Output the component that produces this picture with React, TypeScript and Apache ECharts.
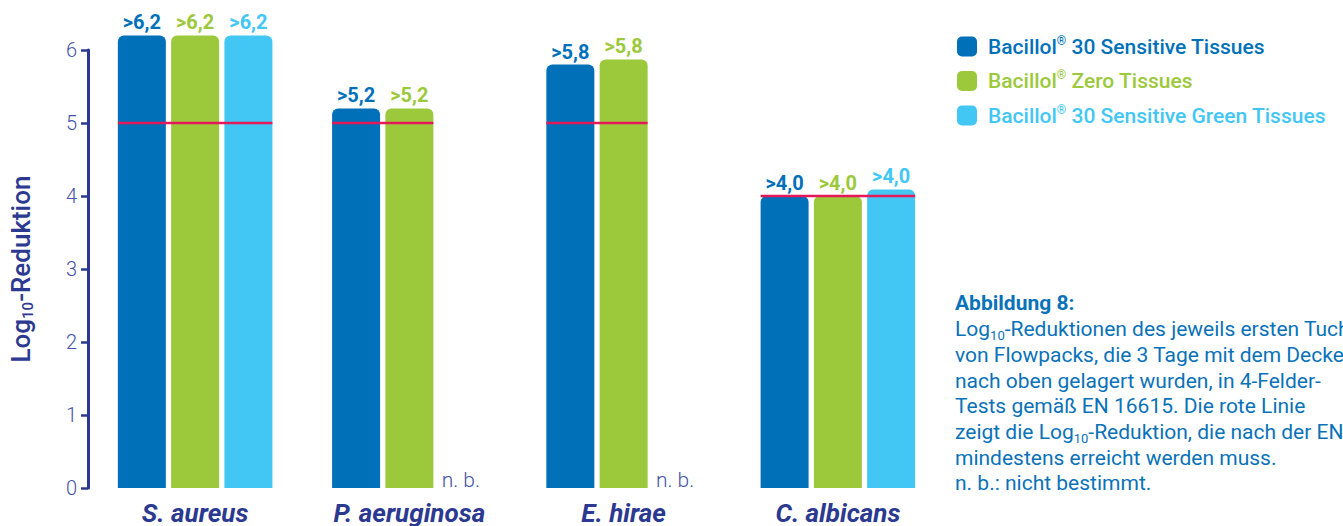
import React, { useEffect, useRef } from 'react';
import * as echarts from 'echarts';

const categories = ['S. aureus', 'P. aeruginosa', 'E. hirae', 'C. albicans'];
const seriesNames = [
  'Bacillol® 30 Sensitive Tissues',
  'Bacillol® Zero Tissues',
  'Bacillol® 30 Sensitive Green Tissues',
];
const seriesColors = ['#0071b9', '#9cc93b', '#42c7f4'];

// null = n. b. (nicht bestimmt)
const sensitiveValues = [6.2, 5.2, 5.8, 4.0];
const zeroValues = [6.2, 5.2, 5.87, 4.0];
const greenValues: (number | null)[] = [6.2, null, null, 4.09];

const sensitiveLabels = ['>6,2', '>5,2', '>5,8', '>4,0'];
const zeroLabels = ['>6,2', '>5,2', '>5,8', '>4,0'];
const greenLabels = ['>6,2', 'n. b.', 'n. b.', '>4,0'];

// Required log10 reduction per EN 16615 (red line)
const requiredReduction = [5, 5, 5, 4];
const barsPerGroup = [3, 2, 2, 3];

const yMin = 0;
const yMax = 6;
const yInterval = 1;

const captionTitle = 'Abbildung 8:';
const captionLines = [
  '{t|Log}{s|10}{t|-Reduktionen des jeweils ersten Tuches}',
  '{t|von Flowpacks, die 3 Tage mit dem Deckel}',
  '{t|nach oben gelagert wurden, in 4-Felder-}',
  '{t|Tests gemäß EN 16615. Die rote Linie}',
  '{t|zeigt die Log}{s|10}{t|-Reduktion, die nach der EN 16615}',
  '{t|mindestens erreicht werden muss.}',
  '{t|n. b.: nicht bestimmt.}',
];

const FONT = 'Roboto';
const AXIS_COLOR = '#2b3990';
const TICK_LABEL_COLOR = '#4453a6';
const RED = '#e5195a';
const CAPTION_COLOR = '#0a72b8';
const BAR_W = 48;

export default function App() {
  const ref = useRef<HTMLDivElement>(null);

  useEffect(() => {
    document.body.style.margin = '0';
    if (!ref.current) return;
    const chart = echarts.init(ref.current, undefined, { renderer: 'svg' });

    const valueLists = [sensitiveValues, zeroValues, greenValues];
    const labelLists = [sensitiveLabels, zeroLabels, greenLabels];

    const barSeries = valueLists.map((vals, si) => ({
      type: 'bar',
      name: seriesNames[si],
      barWidth: BAR_W,
      barGap: '11%',
      clip: false,
      itemStyle: { color: seriesColors[si], borderRadius: [6, 6, 0, 0] },
      label: {
        show: true,
        position: 'top',
        distance: 3,
        fontFamily: FONT,
        fontSize: 20,
        fontWeight: 'bold',
        color: seriesColors[si],
        formatter: (p: any) => labelLists[si][p.dataIndex],
      },
      data: vals.map((v) =>
        v == null
          ? {
              value: 0,
              label: {
                show: true,
                position: [3, 2],
                align: 'left',
                verticalAlign: 'bottom',
                fontFamily: FONT,
                fontSize: 21,
                fontWeight: 300,
                color: TICK_LABEL_COLOR,
              },
            }
          : { value: v },
      ),
    }));

    const legendRich = (color: string) => ({
      a: { fontFamily: FONT, fontSize: 21, fontWeight: 500, color, lineHeight: 24 },
      r: { fontFamily: FONT, fontSize: 12, fontWeight: 500, color, lineHeight: 13, verticalAlign: 'top' },
    });

    const option: any = {
      animation: false,
      grid: { left: 86, right: 398, top: 50, bottom: 36, containLabel: false },
      legend: seriesNames.map((n, i) => ({
        data: [n],
        left: 957,
        top: 34.5 + i * 34.5,
        padding: 0,
        itemWidth: 20,
        itemHeight: 20,
        icon: 'roundRect',
        selectedMode: false,
        formatter: (name: string) => {
          const parts = name.split('®');
          return `{a|${parts[0]}}{r|®}{a|${parts[1]}}`;
        },
        textStyle: { padding: [0, 0, 0, 6], rich: legendRich(seriesColors[i]) },
      })),
      xAxis: {
        type: 'category',
        data: categories,
        axisLine: { show: false },
        axisTick: { show: false },
        axisLabel: {
          fontFamily: FONT,
          fontSize: 26,
          fontWeight: 'bold',
          fontStyle: 'italic',
          color: AXIS_COLOR,
          margin: 12,
        },
      },
      yAxis: {
        type: 'value',
        min: yMin,
        max: yMax,
        interval: yInterval,
        name: '{a|Log}{s|10}{a|-Reduktion}',
        nameLocation: 'middle',
        nameGap: 53,
        nameRotate: 90,
        nameTextStyle: {
          rich: {
            a: { fontFamily: FONT, fontSize: 26, fontWeight: 500, color: AXIS_COLOR, lineHeight: 28 },
            s: { fontFamily: FONT, fontSize: 15, fontWeight: 500, color: AXIS_COLOR, lineHeight: 16, verticalAlign: 'bottom' },
          },
        },
        axisLine: { show: true, lineStyle: { color: AXIS_COLOR, width: 3 } },
        axisTick: { show: true, length: 7, lineStyle: { color: AXIS_COLOR, width: 2.5 } },
        splitLine: { show: false },
        axisLabel: {
          fontFamily: FONT,
          fontSize: 20,
          fontWeight: 300,
          color: TICK_LABEL_COLOR,
          margin: 11,
        },
      },
      series: [
        ...barSeries,
        {
          type: 'custom',
          name: 'EN 16615',
          z: 10,
          encode: { x: 0, y: 1 },
          data: requiredReduction.map((r, i) => [i, r, barsPerGroup[i]]),
          renderItem: (params: any, api: any) => {
            const p = api.coord([api.value(0), api.value(1)]);
            const n = api.value(2);
            const gap = BAR_W * 0.11;
            const groupW = 3 * BAR_W + 2 * gap;
            const x1 = p[0] - groupW / 2;
            const x2 = x1 + n * BAR_W + (n - 1) * gap;
            return {
              type: 'line',
              shape: { x1, y1: p[1], x2, y2: p[1] },
              style: { stroke: RED, lineWidth: 2.5 },
            };
          },
        },
      ],
      graphic: [
        {
          type: 'text',
          left: 955,
          top: 293,
          style: {
            text: [`{b|${captionTitle}}`, ...captionLines].join('\n'),
            rich: {
              b: { fontFamily: FONT, fontSize: 21, fontWeight: 'bold', fill: CAPTION_COLOR, lineHeight: 25.7 },
              t: { fontFamily: FONT, fontSize: 21, fill: CAPTION_COLOR, lineHeight: 25.7 },
              s: { fontFamily: FONT, fontSize: 13, fill: CAPTION_COLOR, lineHeight: 15, verticalAlign: 'bottom' },
            },
          },
        },
      ],
    };

    chart.setOption(option);
    return () => chart.dispose();
  }, []);

  return <div ref={ref} style={{ width: 1343, height: 526 }} />;
}
